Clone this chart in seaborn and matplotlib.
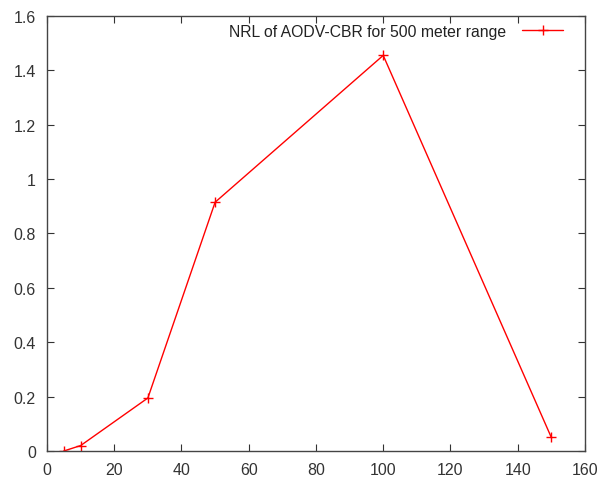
import pandas as pd
import matplotlib
matplotlib.use("Agg")
import matplotlib.pyplot as plt
import seaborn as sns

# values
nodes = [5, 10, 30, 50, 100, 150]
nrl = [0.0, 0.02, 0.195, 0.915, 1.455, 0.05]
series_label = "NRL of AODV-CBR for 500 meter range"

x_ticks = [0, 20, 40, 60, 80, 100, 120, 140, 160]
y_ticks = [0, 0.2, 0.4, 0.6, 0.8, 1.0, 1.2, 1.4, 1.6]
y_tick_labels = ["0", "0.2", "0.4", "0.6", "0.8", "1", "1.2", "1.4", "1.6"]

data = pd.DataFrame({"nodes": nodes, "nrl": nrl})

sns.set_style("ticks")
plt.rcParams["font.family"] = ["Liberation Sans", "DejaVu Sans"]

fig = plt.figure(figsize=(5.99, 4.81), dpi=100)
ax = fig.add_axes([0.0785, 0.0603, 0.898, 0.9044])

sns.lineplot(data=data, x="nodes", y="nrl", ax=ax, color="#ff0000",
             linewidth=1.0, marker="+", markersize=7, markeredgewidth=1.0,
             markeredgecolor="#ff0000", label=series_label)

ax.set_xlim(0, 160)
ax.set_ylim(0, 1.6)
ax.set_xticks(x_ticks)
ax.set_yticks(y_ticks)
ax.set_yticklabels(y_tick_labels)
ax.set_xlabel("")
ax.set_ylabel("")
ax.tick_params(direction="in", length=5, width=0.8, top=True, right=True,
               labelsize=11.5, labelcolor="#333333", color="#333333", pad=8)
for s in ax.spines.values():
    s.set_linewidth(1.0)
    s.set_color("#444444")

leg = ax.legend(loc="upper right", bbox_to_anchor=(0.974, 1.0), frameon=False,
                markerfirst=False, fontsize=11.3, handlelength=2.6,
                handletextpad=1.0, borderaxespad=0.1)
for t in leg.get_texts():
    t.set_color("#222222")

fig.savefig("out.png", dpi=100)
